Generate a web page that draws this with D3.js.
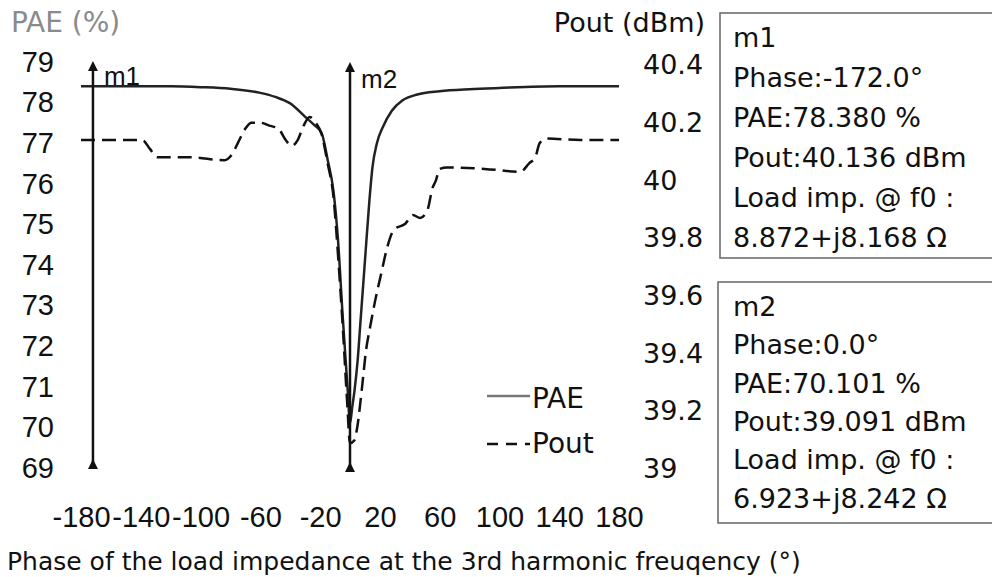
<!DOCTYPE html>
<html>
<head>
<meta charset="utf-8">
<script src="https://cdn.jsdelivr.net/npm/d3@7"></script>
<style>
  body { margin: 0; background: #fff; }
  svg text { font-family: "Liberation Sans", Arial, sans-serif; }
  svg text.wide { font-family: "DejaVu Sans", sans-serif; }
</style>
</head>
<body>
<div id="chart"></div>
<script>
// phase sweep of the 3rd harmonic load (degrees)
const phaseTicks = [-180, -140, -100, -60, -20, 20, 60, 100, 140, 180];
const paeTicks = [69, 70, 71, 72, 73, 74, 75, 76, 77, 78, 79];
const poutTicks = [39, 39.2, 39.4, 39.6, 39.8, 40, 40.2, 40.4];
const poutTickLabels = ["39", "39.2", "39.4", "39.6", "39.8", "40", "40.2", "40.4"];

// PAE (%)
const paePhase = [-180, -160, -120, -100, -80, -60, -50, -40, -30, -24, -19, -15, -11, -8, -5, -3, -1.5, 0,
                  1.5, 3, 5, 7, 10, 13, 15, 18, 22, 28, 35, 45, 60, 80, 100, 140, 180];
const paeValues = [78.40, 78.40, 78.40, 78.38, 78.34, 78.24, 78.14, 77.98, 77.65, 77.45, 77.25, 76.6, 75.8, 74.6, 72.8, 71.7, 70.9, 70.1,
                   70.5, 70.9, 71.6, 72.6, 74.1, 75.6, 76.4, 77.0, 77.4, 77.8, 78.05, 78.2, 78.28, 78.33, 78.36, 78.40, 78.40];

// Pout (dBm)
const poutPhase = [-180, -139, -134, -129, -107, -84, -79, -75, -70, -66, -60, -54, -48, -43, -39, -35, -31, -27, -23, -19,
                   -15, -11, -8, -4.7, -2, 0, 3, 4.7, 8, 10.7, 13.4, 16.7, 21, 25, 29.5, 37, 42, 47, 52, 55, 57.5, 60, 65,
                   90, 114, 120, 124, 127, 132, 154, 180];
const poutValues = [40.14, 40.14, 40.11, 40.08, 40.08, 40.07, 40.09, 40.13, 40.18, 40.20, 40.20, 40.19, 40.18, 40.14, 40.12, 40.14, 40.19, 40.22, 40.20, 40.16,
                    40.06, 39.94, 39.74, 39.48, 39.24, 39.09, 39.10, 39.14, 39.28, 39.41, 39.49, 39.58, 39.68, 39.77, 39.83, 39.85, 39.88, 39.87, 39.90, 39.97, 40.00, 40.04, 40.045,
                    40.04, 40.03, 40.06, 40.08, 40.13, 40.145, 40.14, 40.14];

// marker positions and readouts
const markerNames = ["m1", "m2"];
const markerPhase = [-172, 0];
const markerText = [
  ["m1", "Phase:-172.0°", "PAE:78.380 %", "Pout:40.136 dBm", "Load imp. @ f0 :", "8.872+j8.168 Ω"],
  ["m2", "Phase:0.0°", "PAE:70.101 %", "Pout:39.091 dBm", "Load imp. @ f0 :", "6.923+j8.242 Ω"]
];

const legendNames = ["PAE", "Pout"];

const width = 992, height = 577;

const svg = d3.select("#chart")
    .append("svg")
    .attr("width", width)
    .attr("height", height);

const xScale = d3.scaleLinear().domain([-180, 180]).range([81, 619]);
const yLeft = d3.scaleLinear().domain([69, 79]).range([468, 62]);
const yRight = d3.scaleLinear().domain([39, 40.4]).range([469, 65]);

svg.append("defs").selectAll("marker")
    .data(["up", "down"])
    .enter()
    .append("marker")
        .attr("id", d => "arrow-" + d)
        .attr("viewBox", "0 0 10 10")
        .attr("refX", 5).attr("refY", 5)
        .attr("markerWidth", 4).attr("markerHeight", 4)
        .attr("orient", "auto")
    .append("path")
        .attr("d", "M0,0 L10,5 L0,10 Z")
        .attr("fill", "#111");

// axes (labels only, no lines)
const leftAxis = svg.append("g")
    .attr("transform", "translate(54,0)")
    .call(d3.axisLeft(yLeft).tickValues(paeTicks).tickSize(0).tickPadding(0));

const rightAxis = svg.append("g")
    .attr("transform", "translate(643,0)")
    .call(d3.axisRight(yRight).tickValues(poutTicks).tickSize(0).tickPadding(0)
        .tickFormat((d, i) => poutTickLabels[i]));

const bottomAxis = svg.append("g")
    .attr("transform", "translate(0,527)")
    .call(d3.axisBottom(xScale).tickValues(phaseTicks).tickSize(0).tickPadding(0)
        .tickFormat(d => String(d)));

[leftAxis, rightAxis, bottomAxis].forEach(g => {
    g.attr("font-family", null);
    g.select(".domain").remove();
    g.selectAll("text")
        .attr("font-size", 29)
        .attr("fill", "#111");
});
bottomAxis.selectAll("text").attr("dy", null).attr("y", 0);
rightAxis.selectAll("text").attr("class", "wide").attr("font-size", 27);

// axis titles
svg.append("text")
    .attr("class", "wide")
    .attr("x", 11).attr("y", 32)
    .attr("font-size", 28)
    .attr("fill", "#8a8a8a")
    .text("PAE (%)");

svg.append("text")
    .attr("class", "wide")
    .attr("x", 705).attr("y", 32)
    .attr("text-anchor", "end")
    .attr("font-size", 27)
    .attr("fill", "#111")
    .text("Pout (dBm)");

svg.append("text")
    .attr("class", "wide")
    .attr("x", 7).attr("y", 570)
    .attr("font-size", 25)
    .attr("fill", "#111")
    .text("Phase of the load impedance at the 3rd harmonic freuqency  (°)");

// curves
const paeLine = d3.line()
    .x((d, i) => xScale(paePhase[i]))
    .y(d => yLeft(d))
    .curve(d3.curveMonotoneX);

const poutLine = d3.line()
    .x((d, i) => xScale(poutPhase[i]))
    .y(d => yRight(d))
    .curve(d3.curveMonotoneX);

svg.append("path")
    .datum(paeValues)
    .attr("d", paeLine)
    .attr("fill", "none")
    .attr("stroke", "#222")
    .attr("stroke-width", 2.5);

svg.append("path")
    .datum(poutValues)
    .attr("d", poutLine)
    .attr("fill", "none")
    .attr("stroke", "#111")
    .attr("stroke-width", 2.5)
    .attr("stroke-dasharray", "14,7");

// marker arrows
const markers = svg.append("g")
    .selectAll("g")
    .data(markerPhase)
    .enter()
    .append("g");

markers.append("line")
    .attr("x1", d => xScale(d))
    .attr("x2", d => xScale(d))
    .attr("y1", (d, i) => i === 0 ? 464 : 467)
    .attr("y2", (d, i) => i === 0 ? 66 : 67)
    .attr("stroke", "#111")
    .attr("stroke-width", 2.5)
    .attr("marker-start", "url(#arrow-down)")
    .attr("marker-end", "url(#arrow-up)");

markers.append("text")
    .attr("x", d => xScale(d) + 11)
    .attr("y", (d, i) => i === 0 ? 85 : 88)
    .attr("font-size", 26)
    .attr("fill", "#111")
    .text((d, i) => markerNames[i]);

// legend
const legend = svg.append("g");
legend.selectAll("line")
    .data(legendNames)
    .enter()
    .append("line")
        .attr("x1", 487).attr("x2", 530)
        .attr("y1", (d, i) => 396 + i * 48)
        .attr("y2", (d, i) => 396 + i * 48)
        .attr("stroke", (d, i) => i === 0 ? "#777" : "#111")
        .attr("stroke-width", 2.5)
        .attr("stroke-dasharray", (d, i) => i === 0 ? null : "11,8");

legend.selectAll("text")
    .data(legendNames)
    .enter()
    .append("text")
        .attr("class", "wide")
        .attr("x", 532)
        .attr("y", (d, i) => 408 + i * 45)
        .attr("font-size", 28)
        .attr("fill", "#111")
        .text(d => d);

// readout boxes
const boxTop = [13, 282];
const boxHeight = [245, 241];
const boxes = svg.append("g")
    .selectAll("g")
    .data(markerText)
    .enter()
    .append("g");

boxes.append("rect")
    .attr("x", (d, i) => i === 0 ? 720 : 718)
    .attr("y", (d, i) => boxTop[i])
    .attr("width", 320)
    .attr("height", (d, i) => boxHeight[i])
    .attr("fill", "none")
    .attr("stroke", "#666")
    .attr("stroke-width", 1.5);

boxes.each(function(lines, i) {
    d3.select(this).selectAll("text")
        .data(lines)
        .enter()
        .append("text")
            .attr("class", "wide")
            .attr("x", 733)
            .attr("y", (d, j) => boxTop[i] + 34 + j * (i === 0 ? 40 : 38.3))
            .attr("font-size", 27)
            .attr("fill", "#111")
            .text(d => d);
});
</script>
</body>
</html>
